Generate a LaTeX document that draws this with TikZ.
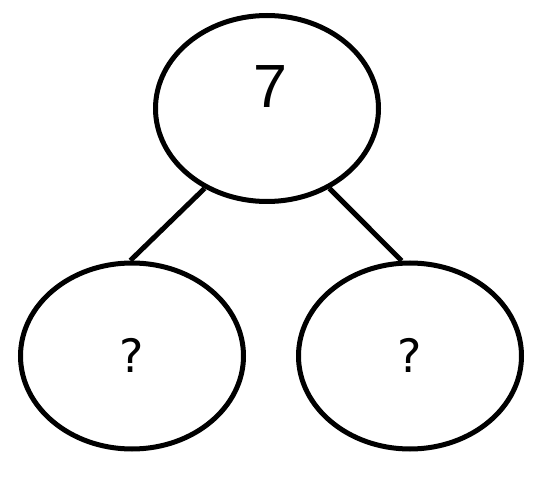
\documentclass[tikz,border=0pt]{standalone}
\usepackage{fontspec}
\setmainfont{Liberation Sans}
\newfontfamily\qfont{DejaVu Sans}
\usetikzlibrary{shapes.geometric}
\begin{document}
\begin{tikzpicture}[x=1pt,y=-1pt,
  oval/.style={ellipse,draw=black,line width=5pt,inner sep=0pt,
    minimum width=223pt,minimum height=186pt},
  link/.style={draw=black,line width=5pt},
  numtext/.style={inner sep=0pt,font=\fontsize{61}{61}\selectfont},
  qtext/.style={inner sep=0pt,font=\qfont\fontsize{46}{46}\selectfont}]
\useasboundingbox (0,0) rectangle (549,481);
\node[oval] (top) at (267,108.5) {};
\node[oval] (left) at (132,356) {};
\node[oval] (right) at (410,356) {};
\node[numtext] (seven) at (270,87) {7};
\node[qtext] (q1) at (132,355) {?};
\node[qtext] (q2) at (410,355) {?};
\draw[link] (top.-128.8) -- (left.91);
\draw[link] (top.-52.9) -- (right.95);
\end{tikzpicture}
\end{document}
